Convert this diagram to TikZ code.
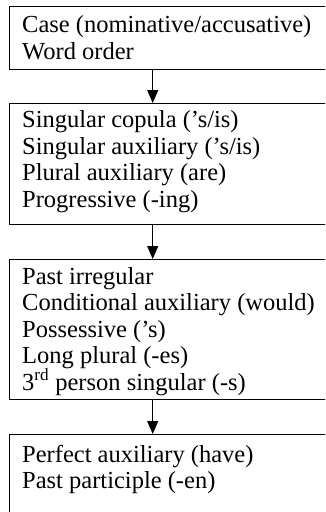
\documentclass[tikz,border=0pt]{standalone}
\usepackage{fontspec}
\setmainfont{Liberation Serif}
\usetikzlibrary{arrows.meta}
\begin{document}
\begin{tikzpicture}[x=1pt,y=-1pt,
  stagebox/.style={draw, line width=1.3pt, rectangle, anchor=north west,
    inner sep=0pt, minimum width=330pt},
  item/.style={anchor=base west, inner sep=0pt, font=\fontsize{24.5}{26.5}\selectfont},
  flow/.style={line width=1pt, -{Triangle[width=11pt,length=13pt]}}]
\useasboundingbox (0,0) rectangle (325,512);
\clip (0,0) rectangle (325,512);

% stage boxes (the right side runs off the page)
\node[stagebox, minimum height=63pt]   (b1) at (9,6)   {};
\node[stagebox, minimum height=121pt]  (b2) at (9,103) {};
\node[stagebox, minimum height=140pt]  (b3) at (9,259) {};
\node[stagebox, minimum height=77.6pt] (b4) at (9,434) {};

% stage 1
\node[item] (t11) at (22,32.5)  {Case (nominative/accusative)};
\node[item] (t12) at (22,59)    {Word order};
% stage 2
\node[item] (t21) at (22,127.5) {Singular copula (’s/is)};
\node[item] (t22) at (22,154)   {Singular auxiliary (’s/is)};
\node[item] (t23) at (22,180.5) {Plural auxiliary (are)};
\node[item] (t24) at (22,207)   {Progressive (-ing)};
% stage 3
\node[item] (t31) at (22,284)   {Past irregular};
\node[item] (t32) at (22,310.5) {Conditional auxiliary (would)};
\node[item] (t33) at (22,337)   {Possessive (’s)};
\node[item] (t34) at (22,363.5) {Long plural (-es)};
\node[item] (t35) at (22,390)   {3\textsuperscript{rd} person singular (-s)};
% stage 4
\node[item] (t41) at (22,462)   {Perfect auxiliary (have)};
\node[item] (t42) at (22,488.5) {Past participle (-en)};

% arrows between stages
\draw[flow] ([xshift=143.7pt]b1.south west) -- ([xshift=143.7pt]b2.north west);
\draw[flow] ([xshift=143.7pt]b2.south west) -- ([xshift=143.7pt]b3.north west);
\draw[flow] ([xshift=143.7pt]b3.south west) -- ([xshift=143.7pt]b4.north west);
\end{tikzpicture}
\end{document}
